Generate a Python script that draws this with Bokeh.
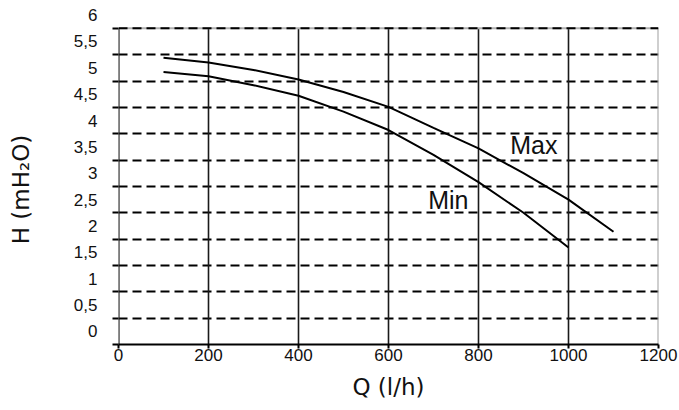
from bokeh.plotting import figure
from bokeh.models import FixedTicker, Range1d
from bokeh.core.properties import value
from bokeh.embed import file_html
from bokeh.resources import INLINE

# ---- data ----
q_max = [100, 200, 300, 400, 500, 600, 700, 800, 900, 1000, 1100]
h_max = [5.44, 5.35, 5.21, 5.03, 4.79, 4.51, 4.11, 3.72, 3.25, 2.75, 2.14]
q_min = [100, 200, 300, 400, 500, 600, 700, 800, 900, 1000]
h_min = [5.17, 5.09, 4.92, 4.72, 4.42, 4.07, 3.60, 3.08, 2.50, 1.84]

x_ticks = [0, 200, 400, 600, 800, 1000, 1200]
y_grid = [0, 0.5, 1, 1.5, 2, 2.5, 3, 3.5, 4, 4.5, 5, 5.5, 6]
y_labels = ["0", "0,5", "1", "1,5", "2", "2,5", "3", "3,5", "4", "4,5", "5", "5,5", "6"]

curve_names = ["Max", "Min"]
name_x = [923, 733]
name_y = [3.78, 2.75]

LABEL_SHIFT = 0.25  # tick labels sit between the grid lines in the source

p = figure(width=679, height=410, output_backend="svg", toolbar_location=None,
           x_range=Range1d(0, 1200), y_range=Range1d(0, 6.3),
           min_border_left=118, min_border_right=21, min_border_top=12,
           min_border_bottom=66)
p.outline_line_color = None
p.background_fill_color = "white"
p.xgrid.visible = False

# horizontal dashed grid
p.ygrid.ticker = FixedTicker(ticks=y_grid[1:-1])
p.ygrid.grid_line_color = "black"
p.ygrid.grid_line_width = 2
p.ygrid.grid_line_dash = "9 5"

# vertical solid lines
y_lo, y_hi = y_grid[0], y_grid[-1]
inner = x_ticks[1:-1]
p.segment(x0=inner, y0=[y_lo] * len(inner), x1=inner, y1=[y_hi] * len(inner),
          line_color="#1a1a1a", line_width=1.6)
p.segment(x0=[x_ticks[0]], y0=[y_lo], x1=[x_ticks[0]], y1=[y_hi],
          line_color="#222222", line_width=2.2)
p.segment(x0=[x_ticks[-1]], y0=[y_lo], x1=[x_ticks[-1]], y1=[y_hi],
          line_color="#a0a0a0", line_width=2)
# top border: grey under black dashes
p.segment(x0=[x_ticks[0]], y0=[y_hi], x1=[x_ticks[-1]], y1=[y_hi],
          line_color="#b0b0b0", line_width=2)
p.segment(x0=[x_ticks[0]], y0=[y_hi], x1=[x_ticks[-1]], y1=[y_hi],
          line_color="black", line_width=2, line_dash="9 5")

# curves
p.line(q_max, h_max, line_color="black", line_width=2)
p.line(q_min, h_min, line_color="black", line_width=2)
p.text(x=name_x, y=name_y, text=curve_names, text_font=value("Liberation Sans"),
       text_font_size="25px", text_align="center", text_baseline="middle",
       text_color="#111111")

# x axis
xa = p.xaxis[0]
xa.ticker = FixedTicker(ticks=x_ticks)
xa.axis_line_color = "black"
xa.axis_line_width = 2
xa.major_tick_out = 4
xa.major_tick_in = 0
xa.major_tick_line_color = "black"
xa.major_tick_line_width = 2
xa.minor_tick_line_color = None
xa.major_label_standoff = 0
xa.major_label_text_font = "Liberation Sans"
xa.major_label_text_font_size = "17px"
xa.major_label_text_color = "#111111"
xa.axis_label = "Q (l/h)"
xa.axis_label_text_font = "DejaVu Sans"
xa.axis_label_text_font_size = "23px"
xa.axis_label_text_font_style = "normal"
xa.axis_label_text_color = "#111111"
xa.axis_label_standoff = 10

# y axis
ya = p.yaxis[0]
label_pos = [v + LABEL_SHIFT for v in y_grid]
ya.ticker = FixedTicker(ticks=label_pos, minor_ticks=y_grid)
ya.major_label_overrides = {pos: lab for pos, lab in zip(label_pos, y_labels)}
ya.axis_line_color = None
ya.major_tick_out = 0
ya.major_tick_in = 0
ya.major_tick_line_color = None
ya.minor_tick_out = 6
ya.minor_tick_in = 0
ya.minor_tick_line_color = "black"
ya.minor_tick_line_width = 2
ya.major_label_standoff = 15
ya.major_label_text_font = "Liberation Sans"
ya.major_label_text_font_size = "17px"
ya.major_label_text_color = "#111111"
ya.axis_label = "H (mH₂O)\u00a0\u00a0\u00a0"
ya.axis_label_text_font = "DejaVu Sans"
ya.axis_label_text_font_size = "23px"
ya.axis_label_text_font_style = "normal"
ya.axis_label_text_color = "#111111"
ya.axis_label_standoff = 37

open("out.html", "w").write(file_html(p, INLINE))
